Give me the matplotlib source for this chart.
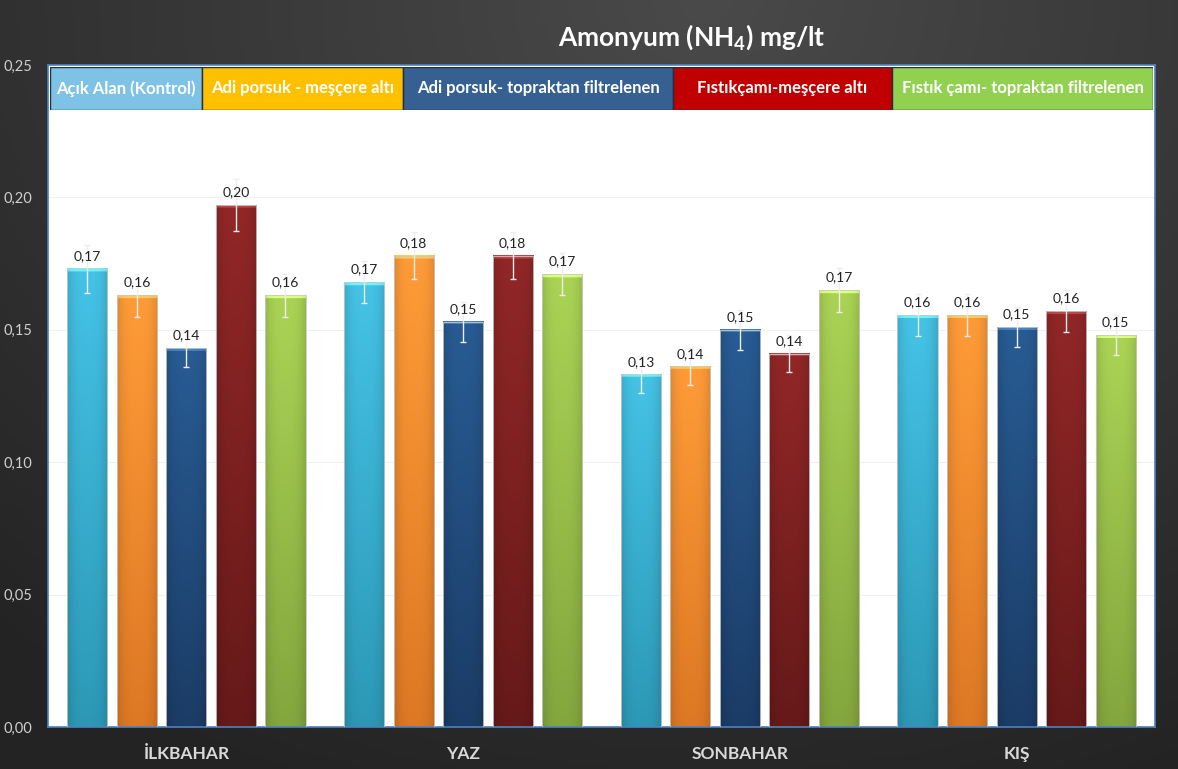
import numpy as np
import matplotlib
matplotlib.use('Agg')
import matplotlib.pyplot as plt
from matplotlib.colors import to_rgb
from matplotlib.patches import Rectangle

plt.rcParams['font.family'] = ['Lato', 'DejaVu Sans']

# data
seasons = ['İLKBAHAR', 'YAZ', 'SONBAHAR', 'KIŞ']
series = ['Açık Alan (Kontrol)', 'Adi porsuk - meşçere altı',
          'Adi porsuk- topraktan filtrelenen', 'Fıstıkçamı-meşçere altı',
          'Fıstık çamı- topraktan filtrelenen']
acik_alan = [0.173, 0.168, 0.133, 0.1555]
porsuk_mescere = [0.163, 0.178, 0.136, 0.1555]
porsuk_toprak = [0.143, 0.153, 0.150, 0.151]
fistik_mescere = [0.197, 0.178, 0.141, 0.157]
fistik_toprak = [0.163, 0.171, 0.165, 0.148]
values = [acik_alan, porsuk_mescere, porsuk_toprak, fistik_mescere, fistik_toprak]
err_acik = [0.009, 0.008, 0.007, 0.008]
err_pm = [0.008, 0.009, 0.007, 0.008]
err_pt = [0.007, 0.0075, 0.0075, 0.0076]
err_fm = [0.0098, 0.009, 0.007, 0.008]
err_ft = [0.008, 0.008, 0.0083, 0.0075]
errors = [err_acik, err_pm, err_pt, err_fm, err_ft]

bar_top = ['#45C3E6', '#FF9C38', '#285C94', '#922727', '#ABD455']
bar_bot = ['#2C98B6', '#DD7824', '#1B3C66', '#661919', '#84A63E']
legend_colors = ['#7EC2E6', '#FFC000', '#376092', '#C00000', '#92D050']

fig = plt.figure(figsize=(11.78, 7.69), dpi=100)

# dark background gradient
bg = fig.add_axes([0, 0, 1, 1], zorder=-5)
yy, xx = np.mgrid[0:1:200j, 0:1:300j]
r = np.sqrt(((xx - 0.6) / 0.9) ** 2 + ((yy - 0.0) / 1.1) ** 2)
shade = 0.29 - 0.15 * np.clip(r, 0, 1)
bg.imshow(np.dstack([shade, shade, shade]), aspect='auto', extent=(0, 1, 0, 1), origin='upper')
bg.set_axis_off()

ax = fig.add_axes([48 / 1178, 1 - 727 / 769, (1155 - 48) / 1178, (727 - 65) / 769])
ax.set_facecolor('white')
x = np.arange(len(seasons))
step = 0.179
width = 0.145
px_per_unit = (727 - 65) / 0.25
for i, vals in enumerate(values):
    pos = x + (i - 2) * step
    c_top = np.array(to_rgb(bar_top[i]))
    c_bot = np.array(to_rgb(bar_bot[i]))
    for p, v, e in zip(pos, vals, errors[i]):
        ny, nx = 400, 30
        t = np.linspace(1, 0, ny)[:, None, None]
        u = np.linspace(-1, 1, nx)[None, :, None]
        col = (c_bot + (c_top - c_bot) * t) * (1 - 0.12 * np.abs(u) ** 3)
        nh = max(1, int(round(ny * 3 / (v * px_per_unit))))
        col[:nh] = np.clip(col[:nh] * 1.15 + 0.1, 0, 1)
        ax.imshow(np.clip(col, 0, 1), extent=(p - width / 2, p + width / 2, 0, v),
                  aspect='auto', zorder=2, origin='upper')
        ax.add_patch(Rectangle((p - width / 2, 0), width, v, fill=False,
                               ec='#C8C8C8', lw=0.6, zorder=3))
        ax.errorbar(p, v, yerr=e, color='#EDEDED', lw=1, capsize=2.5, capthick=1, zorder=4)
        ax.annotate(f'{v:.2f}'.replace('.', ','), (p, v), xytext=(0, 5),
                    textcoords='offset points', ha='center', va='bottom',
                    fontsize=10, color='#222222', zorder=5)

ax.set_xlim(-0.5, 3.5)
ax.set_ylim(0, 0.25)
ticks = np.arange(0, 0.26, 0.05)
ax.set_yticks(ticks)
ax.set_yticklabels([f'{t:.2f}'.replace('.', ',') for t in ticks], color='#D0D0D0', fontsize=10.5)
ax.set_xticks(x)
ax.set_xticklabels(seasons, color='#D9D9D9', fontsize=12.5, fontweight='bold')
ax.tick_params(axis='x', length=0, pad=14)
ax.tick_params(axis='y', length=0, pad=11)
ax.grid(axis='y', color='#F0F0F0', lw=0.8, zorder=0)
ax.set_axisbelow(True)
for s in ax.spines.values():
    s.set_color('#4F81BD')
    s.set_linewidth(1.2)

# legend boxes
leg = fig.add_axes([50 / 1178, 1 - 110 / 769, (1153 - 50) / 1178, 43 / 769], zorder=6)
edges = [50, 202, 403, 673, 892, 1153]
for i, name in enumerate(series):
    leg.add_patch(Rectangle((edges[i], 0), edges[i + 1] - edges[i], 1,
                            fc=legend_colors[i], ec='#1F2F45', lw=1))
    leg.text((edges[i] + edges[i + 1]) / 2, 0.5, name, ha='center', va='center',
             color='white', fontsize=12, fontweight='bold')
leg.set_xlim(50, 1153)
leg.set_ylim(0, 1)
leg.set_axis_off()

fig.text(692 / 1178, 1 - 37 / 769, 'Amonyum (NH$\\mathregular{_4}$) mg/lt', ha='center', va='center',
         color='white', fontsize=19, fontweight='bold')

fig.savefig('out.png', dpi=100)
